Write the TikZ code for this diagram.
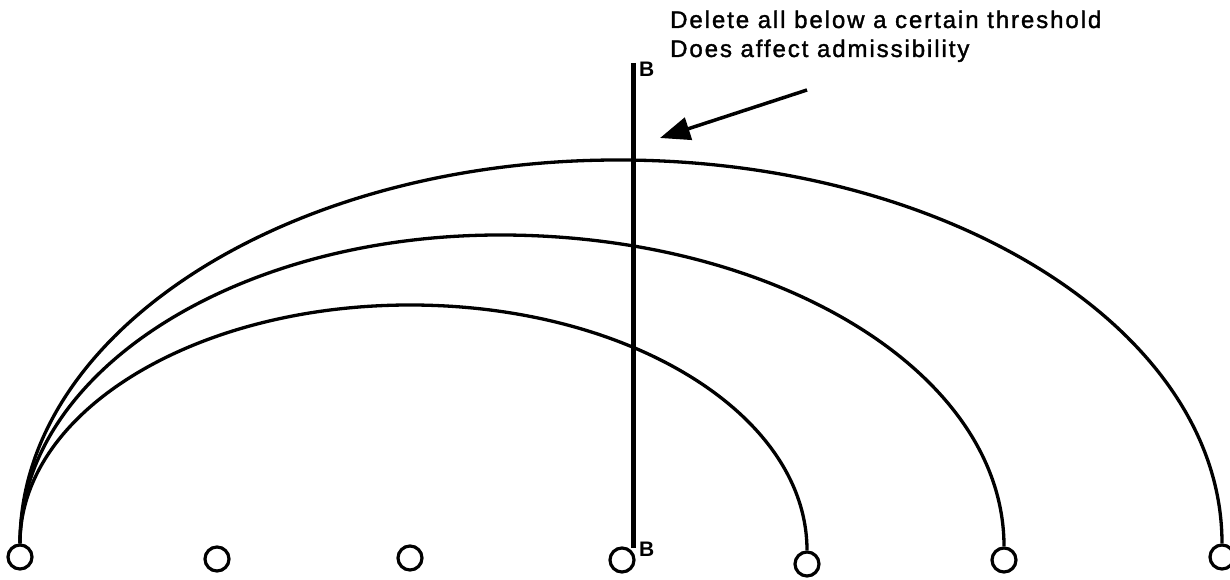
\documentclass[tikz,border=0pt]{standalone}
\usepackage{fontspec}
\setmainfont{Liberation Sans}
\newfontfamily\notefont[LetterSpace=8,FakeBold=1.5]{Liberation Sans}
\usetikzlibrary{arrows.meta,calc}
\begin{document}
\begin{tikzpicture}[x=1pt,y=1pt,
  vtx/.style={circle,draw,line width=3.2pt,minimum size=24pt,inner sep=0pt},
  link/.style={line width=3.3pt},
  cut/.style={line width=5pt},
  pointer/.style={line width=3.5pt,-{Triangle[length=30pt,width=23pt]}},
  tag/.style={font=\bfseries\fontsize{21}{21}\selectfont,inner sep=0pt,anchor=base west},
  note/.style={font=\notefont\fontsize{24}{29}\selectfont,align=left,inner sep=0pt,anchor=base west}]
\useasboundingbox (0,0) rectangle (1230,580);
% vertices along the bottom
\node[vtx] (n1) at (20,23) {};
\node[vtx] (n2) at (217,21) {};
\node[vtx] (n3) at (410,22) {};
\node[vtx] (n4) at (622,20) {};
\node[vtx] (n5) at (807,16) {};
\node[vtx] (n6) at (1004,20) {};
\node[vtx] (n7) at (1222,23) {};
% peaks of the three arcs
\coordinate (p1) at (410,275);
\coordinate (p2) at (500,345);
\coordinate (p3) at (618,420);
% arcs from the first vertex, each built of two quarter-ellipse pieces
\draw[link] (n1.north) .. controls ($(n1.north)+(0,132)$) and ($(p1)-(215,0)$) .. (p1)
  .. controls ($(p1)+(219,0)$) and ($(n5.north)+(0,136)$) .. (n5.north);
\draw[link] (n1.north) .. controls ($(n1.north)+(0,171)$) and ($(p2)-(265,0)$) .. (p2)
  .. controls ($(p2)+(278,0)$) and ($(n6.north)+(0,173)$) .. (n6.north);
\draw[link] (n1.north) .. controls ($(n1.north)+(0,212)$) and ($(p3)-(330,0)$) .. (p3)
  .. controls ($(p3)+(333,0)$) and ($(n7.north)+(0,212)$) .. (n7.north);
% threshold bar B--B
\coordinate (btop) at (633,517);
\coordinate (bbot) at (633,32);
\draw[cut] (btop) -- (bbot);
\node[tag] (bt) at (639,503) {B};
\node[tag] (bb) at (639,23) {B};
% annotation and its arrow
\node[note] (txt) at (670,523) {Delete all below a certain threshold\\Does affect admissibility};
\coordinate (tail) at (807,490);
\coordinate (head) at (660,442);
\draw[pointer] (tail) -- (head);
\end{tikzpicture}
\end{document}
